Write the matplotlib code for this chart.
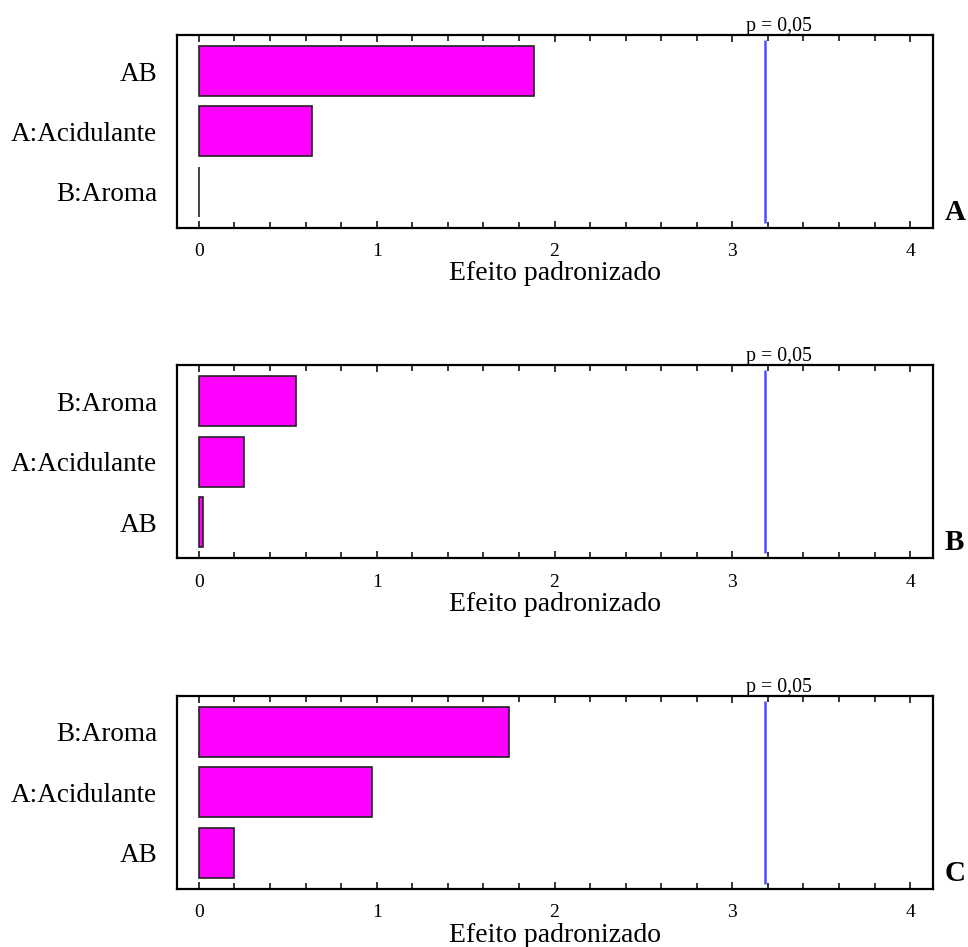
import matplotlib
matplotlib.use("Agg")
import matplotlib.pyplot as plt
from matplotlib.ticker import MultipleLocator

plt.rcParams['font.family'] = ['Liberation Serif', 'DejaVu Serif']

# Data (bottom-to-top order for each panel)
cats_A = ["B:Aroma", "A:Acidulante", "AB"]
vals_A = [0.0, 0.634, 1.885]
cats_B = ["AB", "A:Acidulante", "B:Aroma"]
vals_B = [0.021, 0.255, 0.544]
cats_C = ["AB", "A:Acidulante", "B:Aroma"]
vals_C = [0.197, 0.972, 1.746]
panel_letters = ["A", "B", "C"]
t_crit = 3.182
p_label = "p = 0,05"
xlabel = "Efeito padronizado"
xticks = [0, 1, 2, 3, 4]

W, H = 968, 947
fig = plt.figure(figsize=(W / 100, H / 100), dpi=100)

left = 176.7 / W
width = (933.3 - 176.7) / W
boxes = [(35.0, 227.7), (365.0, 558.3), (695.7, 889.0)]

panels = [(cats_A, vals_A), (cats_B, vals_B), (cats_C, vals_C)]

for (cats, vals), (top, bot), letter in zip(panels, boxes, panel_letters):
    ax = fig.add_axes([left, 1 - bot / H, width, (bot - top) / H])
    ypos = list(range(len(cats)))
    ax.barh(ypos, vals, height=0.83, color="#FF00FF", edgecolor="#222222",
            linewidth=1.2, zorder=2)
    ax.set_xlim(-0.125, 4.13)
    ax.set_ylim(-0.6, 2.6)
    ax.set_yticks(ypos)
    ax.set_yticklabels(cats, fontsize=19.5)
    ax.tick_params(axis='y', length=0, pad=14)
    ax.set_xticks(xticks)
    ax.set_xticklabels([str(t) for t in xticks], fontsize=14)
    ax.xaxis.set_minor_locator(MultipleLocator(0.2))
    ax.tick_params(axis='x', which='both', direction='in', top=True,
                   bottom=True, width=1.1, pad=11)
    ax.tick_params(axis='x', which='major', length=5)
    ax.tick_params(axis='x', which='minor', length=4)
    for s in ax.spines.values():
        s.set_linewidth(1.6)
        s.set_color("black")
    ax.vlines(t_crit, -0.52, 2.52, color="#4D4DFF", linewidth=1.8, zorder=3)
    ax.annotate(p_label, xy=(t_crit, 1.0), xycoords=('data', 'axes fraction'),
                xytext=(-13.7, 3), textcoords='offset points',
                ha='left', va='baseline', fontsize=14.3)
    ax.set_xlabel(xlabel, fontsize=20, labelpad=1)
    ax.text(1.015, 0.01, letter, transform=ax.transAxes, fontsize=21,
            fontweight='bold', ha='left', va='bottom')

fig.savefig("out.png", dpi=100)
